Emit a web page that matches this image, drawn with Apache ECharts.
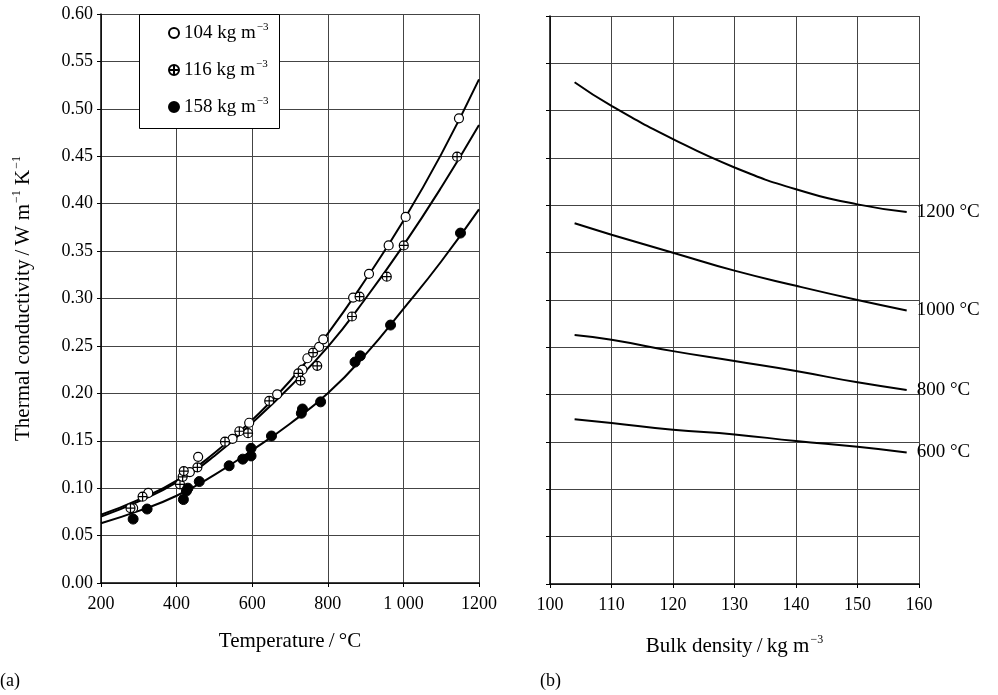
<!DOCTYPE html>
<html>
<head>
<meta charset="utf-8">
<title>Thermal conductivity</title>
<script src="https://cdn.jsdelivr.net/npm/echarts@6/dist/echarts.min.js"></script>
<style>
  html, body { margin: 0; padding: 0; background: #fff; }
  #chart { width: 998px; height: 695px; }
</style>
</head>
<body>
<div id="chart"></div>
<script>
// (a) measured points [temperature °C, conductivity W/m K]
var pts104 = [[285, 0.079], [325, 0.095], [435, 0.117], [457, 0.133], [548, 0.152], [592, 0.169],
  [666, 0.199], [733, 0.225], [746, 0.237], [777, 0.249], [788, 0.257], [867, 0.301],
  [909, 0.326], [961, 0.356], [1006, 0.386], [1147, 0.490]];
var pts116 = [[278, 0.079], [310, 0.091], [409, 0.104], [416, 0.112], [419, 0.118], [455, 0.122],
  [528, 0.149], [566, 0.160], [589, 0.158], [645, 0.192], [722, 0.221], [728, 0.2135],
  [761, 0.243], [772, 0.229], [864, 0.281], [884, 0.302], [956, 0.323], [1001, 0.356], [1142, 0.4495]];
var pts158 = [[285, 0.0674], [322, 0.078], [418, 0.088], [426, 0.097], [430, 0.100], [460, 0.107],
  [539, 0.1236], [575, 0.1306], [597, 0.134], [597, 0.142], [651, 0.155], [730, 0.179],
  [733, 0.1835], [781, 0.191], [872, 0.233], [886, 0.2395], [966, 0.272], [1151, 0.369]];

// (a) fitted curves read every 100 °C
var curveT = [200, 300, 400, 500, 600, 700, 800, 900, 1000, 1100, 1200];
var fit104 = [0.072, 0.088, 0.108, 0.137, 0.172, 0.213, 0.263, 0.320, 0.382, 0.452, 0.531];
var fit116 = [0.070, 0.086, 0.106, 0.134, 0.169, 0.207, 0.249, 0.300, 0.356, 0.417, 0.483];
var fit158 = [0.063, 0.076, 0.092, 0.114, 0.140, 0.168, 0.200, 0.241, 0.289, 0.339, 0.394];

// (b) conductivity against bulk density
var density = [104, 110, 120, 130, 140, 150, 158];
var k600 = [0.174, 0.170, 0.163, 0.158, 0.151, 0.145, 0.139];
var k800 = [0.263, 0.258, 0.246, 0.2355, 0.225, 0.213, 0.205];
var k1000 = [0.381, 0.369, 0.350, 0.331, 0.315, 0.300, 0.289];
var k1200 = [0.530, 0.505, 0.470, 0.440, 0.417, 0.401, 0.393];
var tempNames = ['600 °C', '800 °C', '1000 °C', '1200 °C'];

var legendNames = ['104', '116', '158'];

var FONT = 'Liberation Serif';
var crossCircle = 'path://M10,0A10,10,0,1,1,-10,0A10,10,0,1,1,10,0ZM-10,0L10,0M0,-10L0,10';

function zip(xs, ys) {
  return xs.map(function (x, i) { return [x, ys[i]]; });
}

var chart = echarts.init(document.getElementById('chart'));

var axisCommon = {
  axisLine: { lineStyle: { color: '#000', width: 1.5 } },
  axisTick: { show: true, inside: false, length: 4, lineStyle: { color: '#000' } },
  axisLabel: { color: '#000', fontFamily: FONT, fontSize: 18 },
  splitLine: { show: true, lineStyle: { color: '#444', width: 1 } }
};

// normal text + superscript pieces
var supRich = {
  n: { fontFamily: FONT, fontSize: 19, color: '#000', lineHeight: 22 },
  s: { fontFamily: FONT, fontSize: 11, color: '#000', verticalAlign: 'top', lineHeight: 22, padding: [0, 0, 10, 1] }
};
var titleRich = {
  n: { fontFamily: FONT, fontSize: 21, color: '#000', lineHeight: 24 },
  s: { fontFamily: FONT, fontSize: 12, color: '#000', verticalAlign: 'top', lineHeight: 24, padding: [0, 0, 11, 1] }
};

function fitLine(name, data) {
  return {
    name: name, type: 'line', xAxisIndex: 0, yAxisIndex: 0,
    data: zip(curveT, data), smooth: true, showSymbol: false, silent: true,
    lineStyle: { color: '#000', width: 2 }, z: 2
  };
}

function densLine(i, data) {
  return {
    name: tempNames[i], type: 'line', xAxisIndex: 1, yAxisIndex: 1,
    data: zip(density, data), smooth: true, showSymbol: false,
    lineStyle: { color: '#000', width: 2 },
    endLabel: {
      show: true, formatter: tempNames[i], color: '#000',
      fontFamily: FONT, fontSize: 19, distance: 10
    }
  };
}

chart.setOption({
  animation: false,
  backgroundColor: '#fff',
  grid: [
    { left: 101, top: 14, width: 378, height: 569 },
    { left: 550, top: 16, width: 369, height: 568 }
  ],
  xAxis: [
    Object.assign({}, axisCommon, {
      gridIndex: 0, type: 'value', min: 200, max: 1200, interval: 200,
      name: 'Temperature\u2009/\u2009°C', nameLocation: 'middle', nameGap: 48,
      nameTextStyle: { fontFamily: FONT, fontSize: 21, color: '#000' },
      axisLabel: Object.assign({}, axisCommon.axisLabel, {
        margin: 12,
        formatter: function (v) { return v === 1000 ? '1 000' : String(v); }
      })
    }),
    Object.assign({}, axisCommon, {
      gridIndex: 1, type: 'value', min: 100, max: 160, interval: 10,
      name: '{n|Bulk density\u2009/\u2009kg m}{s|−3}', nameLocation: 'middle', nameGap: 50,
      nameTextStyle: { rich: titleRich },
      axisLabel: Object.assign({}, axisCommon.axisLabel, { margin: 12 })
    })
  ],
  yAxis: [
    Object.assign({}, axisCommon, {
      gridIndex: 0, type: 'value', min: 0, max: 0.6, interval: 0.05,
      name: '{n|Thermal conductivity\u2009/\u2009W m}{s|−1}{n| K}{s|−1}',
      nameLocation: 'middle', nameRotate: 90, nameGap: 66,
      nameTextStyle: { rich: titleRich },
      axisLabel: Object.assign({}, axisCommon.axisLabel, {
        margin: 8,
        formatter: function (v) { return v.toFixed(2); }
      })
    }),
    Object.assign({}, axisCommon, {
      gridIndex: 1, type: 'value', min: 0, max: 0.6, interval: 0.05,
      axisLabel: { show: false }
    })
  ],
  legend: {
    data: legendNames, z: 60,
    orient: 'vertical', left: 168, top: 22, itemGap: 16,
    itemWidth: 10, itemHeight: 10, padding: 0,
    textStyle: { rich: supRich },
    formatter: function (n) { return '{n|' + n + ' kg m}{s|−3}'; }
  },
  graphic: [
    // legend frame
    { type: 'rect', left: 139, top: 14, z: 5,
      shape: { width: 140, height: 114 },
      style: { fill: '#fff', stroke: '#000', lineWidth: 1 } },
    { type: 'text', left: 0, top: 672, style: { text: '(a)', font: '18px "Liberation Serif"', fill: '#000' } },
    { type: 'text', left: 540, top: 672, style: { text: '(b)', font: '18px "Liberation Serif"', fill: '#000' } }
  ],
  series: [
    fitLine('fit104', fit104),
    fitLine('fit116', fit116),
    fitLine('fit158', fit158),
    {
      name: '104', type: 'scatter', xAxisIndex: 0, yAxisIndex: 0, data: pts104,
      symbol: 'circle', symbolSize: 9, z: 3,
      itemStyle: { color: '#fff', borderColor: '#000', borderWidth: 1.2, opacity: 1 }
    },
    {
      name: '116', type: 'scatter', xAxisIndex: 0, yAxisIndex: 0, data: pts116,
      symbol: crossCircle, symbolSize: 9, z: 3,
      itemStyle: { color: '#fff', borderColor: '#000', borderWidth: 1.2, opacity: 1 }
    },
    {
      name: '158', type: 'scatter', xAxisIndex: 0, yAxisIndex: 0, data: pts158,
      symbol: 'circle', symbolSize: 10, z: 3,
      itemStyle: { color: '#000', borderColor: '#000', borderWidth: 1, opacity: 1 }
    },
    densLine(0, k600),
    densLine(1, k800),
    densLine(2, k1000),
    densLine(3, k1200)
  ]
});
</script>
</body>
</html>
